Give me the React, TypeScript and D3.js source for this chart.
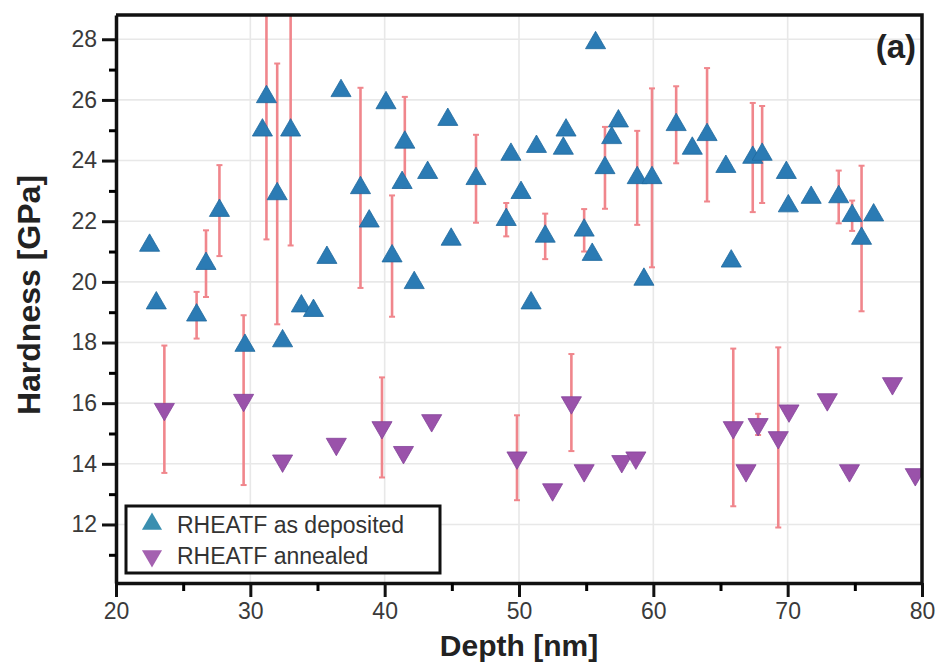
import React, { useRef, useEffect } from 'react';
import * as d3 from 'd3';

// as deposited (up triangles)
const depositedDepth = [
  22.5, 23.0, 26.0, 26.7, 27.7, 29.6, 30.9, 31.2, 32.0, 32.4, 33.0, 33.8, 34.7, 35.7, 36.75,
  38.2, 38.85, 40.1, 40.55, 41.3, 41.5, 42.2, 43.2, 44.7, 44.95, 46.8, 49.05, 49.4, 50.15,
  50.9, 51.3, 51.95, 53.3, 53.5, 54.85, 55.45, 55.7, 56.4, 56.9, 57.4, 58.8, 59.9, 59.3,
  61.7, 62.9, 64.0, 65.4, 65.8, 67.4, 68.1, 69.9, 70.05, 71.75, 73.8, 74.8, 75.5, 76.4,
];
const depositedHardness = [
  21.2, 19.3, 18.9, 20.6, 22.35, 17.9, 25.0, 26.1, 22.9, 18.05, 25.0, 19.2, 19.05, 20.8, 26.3,
  23.1, 22.0, 25.9, 20.85, 23.27, 24.6, 19.97, 23.6, 25.35, 21.4, 23.4, 22.05, 24.2, 22.94,
  19.3, 24.46, 21.5, 24.4, 25.0, 21.7, 20.9, 27.88, 23.76, 24.75, 25.3, 23.43, 23.43, 20.08,
  25.18, 24.4, 24.85, 23.8, 20.68, 24.1, 24.2, 23.6, 22.5, 22.78, 22.8, 22.18, 21.43, 22.2,
];
const depositedErr = [
  0, 0, 0.77, 1.1, 1.5, 0, 0, 4.7, 4.3, 0, 3.8, 0, 0, 0, 0,
  3.3, 0, 0, 2.0, 0, 1.5, 0, 0, 0, 0, 1.45, 0.55, 0, 0,
  0, 0, 0.75, 0, 0, 0.7, 0, 0, 1.35, 0, 0, 1.55, 2.95, 0,
  1.27, 0, 2.2, 0, 0, 1.8, 1.6, 0, 0, 0, 0.87, 0.5, 2.4, 0,
];

// annealed (down triangles)
const annealedDepth = [
  23.6, 29.5, 32.4, 36.4, 39.8, 41.4, 43.5, 49.85, 52.5, 53.9, 54.85, 57.65, 58.7,
  65.95, 66.9, 67.8, 69.3, 70.1, 72.95, 74.6, 77.8, 79.5,
];
const annealedHardness = [
  15.8, 16.1, 14.1, 14.65, 15.2, 14.38, 15.43, 14.2, 13.15, 16.02, 13.78, 14.08, 14.2,
  15.2, 13.78, 15.3, 14.87, 15.75, 16.12, 13.78, 16.65, 13.65,
];
const annealedErr = [
  2.1, 2.8, 0, 0, 1.65, 0, 0, 1.4, 0, 1.6, 0, 0, 0,
  2.6, 0, 0.35, 2.97, 0, 0, 0, 0, 0,
];

const xTicks = [20, 30, 40, 50, 60, 70, 80];
const xMinor = [25, 35, 45, 55, 65, 75];
const yTicks = [12, 14, 16, 18, 20, 22, 24, 26, 28];
const yMinor = [11, 13, 15, 17, 19, 21, 23, 25, 27];

const legendLabels = ['RHEATF as deposited', 'RHEATF annealed'];

const App = () => {
  const svgRef = useRef<SVGSVGElement>(null);

  useEffect(() => {
    const svg = d3.select(svgRef.current);
    svg.selectAll('*').remove();

    const width = 940;
    const height = 670;
    const left = 116, right = 922, top = 15, bottom = 583;
    const font = '"Liberation Sans", Arial, Helvetica, sans-serif';

    const blue = '#2b7bb4';
    const purple = '#9a52aa';
    const errColor = '#f0868c';

    const x = d3.scaleLinear().domain([20, 80]).range([left, right]);
    const y = d3.scaleLinear().domain([10.07, 28.8]).range([bottom, top]);

    svg.append('rect').attr('width', width).attr('height', height).attr('fill', 'white');

    // grid
    const grid = svg.append('g').attr('stroke', '#e8e8e8').attr('stroke-width', 1.6);
    grid.selectAll('.gx').data(xTicks.slice(1, -1)).join('line')
      .attr('x1', d => x(d)).attr('x2', d => x(d)).attr('y1', top).attr('y2', bottom);
    grid.selectAll('.gy').data(yTicks).join('line')
      .attr('y1', d => y(d)).attr('y2', d => y(d)).attr('x1', left).attr('x2', right);

    svg.append('clipPath').attr('id', 'plot-clip')
      .append('rect').attr('x', left).attr('y', top).attr('width', right - left).attr('height', bottom - top);

    const plot = svg.append('g').attr('clip-path', 'url(#plot-clip)');

    const deposited = depositedDepth.map((d, i) => ({ x: d, y: depositedHardness[i], e: depositedErr[i] }));
    const annealed = annealedDepth.map((d, i) => ({ x: d, y: annealedHardness[i], e: annealedErr[i] }));

    // error bars
    const drawErr = (data: { x: number; y: number; e: number }[]) => {
      const g = plot.append('g').attr('stroke', errColor).attr('stroke-width', 2.6);
      const withErr = data.filter(d => d.e > 0);
      g.selectAll('.v').data(withErr).join('line')
        .attr('x1', d => x(d.x)).attr('x2', d => x(d.x))
        .attr('y1', d => y(d.y + d.e)).attr('y2', d => y(d.y - d.e));
      g.selectAll('.ct').data(withErr).join('line')
        .attr('x1', d => x(d.x) - 3).attr('x2', d => x(d.x) + 3)
        .attr('y1', d => y(d.y + d.e)).attr('y2', d => y(d.y + d.e))
        .attr('stroke-width', 2);
      g.selectAll('.cb').data(withErr).join('line')
        .attr('x1', d => x(d.x) - 3).attr('x2', d => x(d.x) + 3)
        .attr('y1', d => y(d.y - d.e)).attr('y2', d => y(d.y - d.e))
        .attr('stroke-width', 2);
    };
    drawErr(deposited);
    drawErr(annealed);

    const tri = d3.symbol().type(d3.symbolTriangle).size(175);

    plot.append('g').selectAll('path').data(deposited).join('path')
      .attr('d', tri)
      .attr('transform', d => `translate(${x(d.x)},${y(d.y)})`)
      .attr('fill', blue)
      .attr('stroke', '#1f6a9e')
      .attr('stroke-width', 0.8);

    plot.append('g').selectAll('path').data(annealed).join('path')
      .attr('d', tri)
      .attr('transform', d => `translate(${x(d.x)},${y(d.y)}) rotate(180)`)
      .attr('fill', purple)
      .attr('stroke', '#84449a')
      .attr('stroke-width', 0.8);

    // axes
    const xAxis = svg.append('g')
      .attr('transform', `translate(0,${bottom})`)
      .call(d3.axisBottom(x).tickValues(xTicks).tickSize(14).tickSizeOuter(0).tickPadding(6).tickFormat(d3.format('d')));
    svg.append('g')
      .attr('transform', `translate(0,${bottom})`)
      .call(d3.axisBottom(x).tickValues(xMinor).tickSize(8).tickFormat(() => ''))
      .call(g => g.select('.domain').remove())
      .selectAll('line').attr('stroke-width', 3);

    const yAxis = svg.append('g')
      .attr('transform', `translate(${left},0)`)
      .call(d3.axisLeft(y).tickValues(yTicks).tickSize(14).tickSizeOuter(0).tickPadding(5).tickFormat(d3.format('d')));
    svg.append('g')
      .attr('transform', `translate(${left},0)`)
      .call(d3.axisLeft(y).tickValues(yMinor).tickSize(7).tickFormat(() => ''))
      .call(g => g.select('.domain').remove())
      .selectAll('line').attr('stroke-width', 3);

    [xAxis, yAxis].forEach(a => {
      a.select('.domain').attr('stroke', '#111').attr('stroke-width', 3.5);
      a.selectAll('.tick line').attr('stroke', '#111').attr('stroke-width', 3);
      a.selectAll('.tick text')
        .attr('font-family', font)
        .attr('font-size', 23)
        .attr('fill', '#3a3a3a');
    });

    // top and right border
    svg.append('path')
      .attr('d', `M${left},${top}H${right}V${bottom}`)
      .attr('fill', 'none')
      .attr('stroke', '#111')
      .attr('stroke-width', 3.5);

    // legend
    const legend = svg.append('g').attr('transform', 'translate(126,506)');
    legend.append('rect')
      .attr('width', 314).attr('height', 67)
      .attr('fill', 'white').attr('stroke', '#111').attr('stroke-width', 3);
    legend.append('path').attr('d', tri).attr('transform', 'translate(26,18)').attr('fill', '#3a8fb0');
    legend.append('path').attr('d', tri).attr('transform', 'translate(26,50) rotate(180)').attr('fill', '#a461b0');
    legend.selectAll('text').data(legendLabels).join('text')
      .attr('x', 51)
      .attr('y', (d, i) => 27 + i * 31)
      .attr('font-family', font)
      .attr('font-size', 23)
      .attr('fill', '#333')
      .text(d => d);

    // labels
    svg.append('text')
      .attr('x', (left + right) / 2)
      .attr('y', 656)
      .attr('text-anchor', 'middle')
      .attr('font-family', font)
      .attr('font-weight', 'bold')
      .attr('font-size', 30)
      .attr('fill', '#222')
      .text('Depth [nm]');

    svg.append('text')
      .attr('transform', 'translate(40,295) rotate(-90)')
      .attr('text-anchor', 'middle')
      .attr('font-family', font)
      .attr('font-weight', 'bold')
      .attr('font-size', 32)
      .attr('fill', '#222')
      .text('Hardness [GPa]');

    svg.append('text')
      .attr('x', 916)
      .attr('y', 58)
      .attr('text-anchor', 'end')
      .attr('font-family', font)
      .attr('font-weight', 'bold')
      .attr('font-size', 33)
      .attr('fill', '#222')
      .text('(a)');
  }, []);

  return (
    <svg
      ref={svgRef}
      width={940}
      height={670}
      style={{ position: 'absolute', left: 0, top: 0, display: 'block' }}
    />
  );
};

export default App;
